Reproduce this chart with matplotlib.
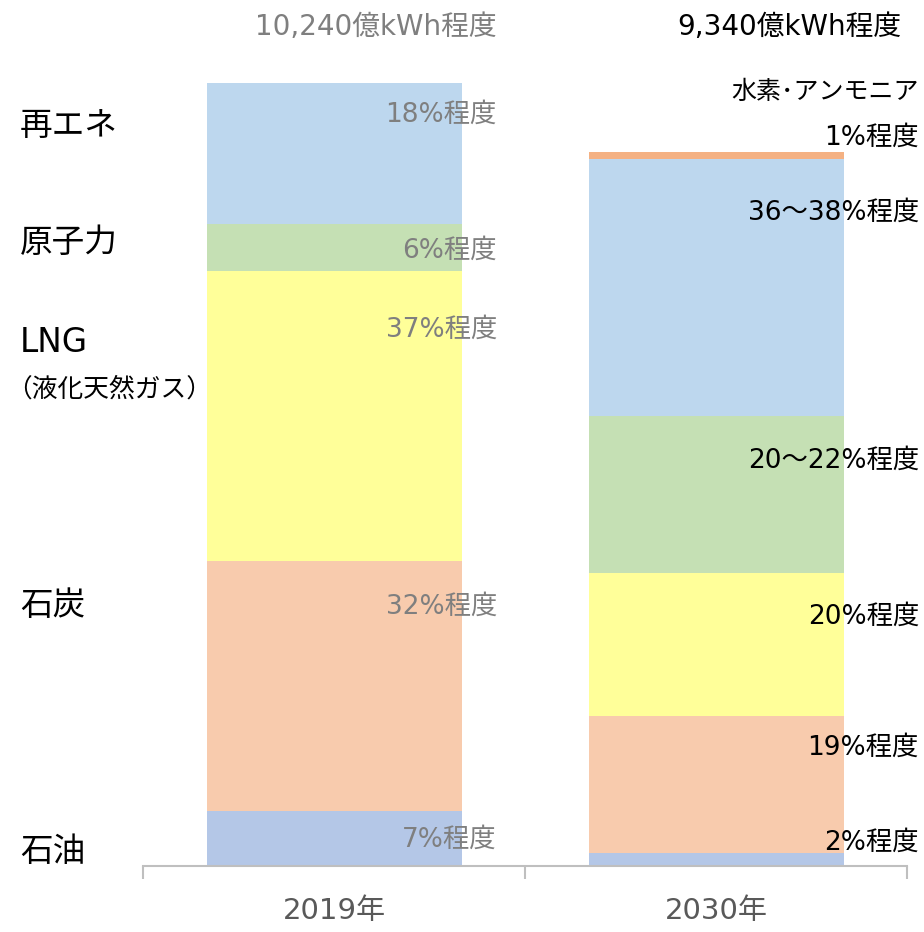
import numpy as np
import matplotlib.pyplot as plt

plt.rcParams['font.family'] = ['DejaVu Sans', 'Noto Sans CJK JP']

years = ['2019年', '2030年']
sources = ['石油', '石炭', 'LNG', '原子力', '再エネ', '水素・アンモニア']
# 億kWh
gen_2019 = [717, 3277, 3789, 614, 1843, 0]
gen_2030 = [170, 1790, 1870, 2050, 3365, 95]
totals = ['10,240億kWh程度', '9,340億kWh程度']
labels_2019 = ['7%程度', '32%程度', '37%程度', '6%程度', '18%程度']
labels_2030 = ['2%程度', '19%程度', '20%程度', '20～22%程度', '36～38%程度', '1%程度']
colors = ['#B4C7E7', '#F8CBAD', '#FFFF99', '#C5E0B4', '#BDD7EE', '#F4B183']

fig = plt.figure(figsize=(9.24, 9.32), dpi=100)
ax = fig.add_axes([143/924, 1 - 866/932, 764/924, 866/932])
scale = 10240 / 783  # 億kWh per pixel


def py(y):
    # pixel row -> data value
    return (866 - y) * scale


data = np.array([gen_2019, gen_2030])
x = np.arange(len(years))
bottom = np.zeros(len(years))
for k in range(len(sources)):
    ax.bar(x, data[:, k], bottom=bottom, width=255/382, color=colors[k], linewidth=0)
    bottom += data[:, k]

ax.set_xlim(-0.5, 1.5)
ax.set_ylim(0, py(0))
for s in ['top', 'right', 'left']:
    ax.spines[s].set_visible(False)
ax.spines['bottom'].set_color('#BFBFBF')
ax.spines['bottom'].set_linewidth(1.5)
ax.set_yticks([])
ax.set_xticks(x)
ax.set_xticklabels(years, fontsize=21, color='#595959')
ax.tick_params(axis='x', which='major', length=0, pad=22)
ax.set_xticks([-0.5, 0.5, 1.5], minor=True)
ax.tick_params(axis='x', which='minor', length=9, width=1.5, color='#BFBFBF')

gray = '#7F7F7F'
xr19 = (497 - 143) / 382 - 0.5
xr30 = (919 - 143) / 382 - 0.5
xt30 = (901 - 143) / 382 - 0.5
ys19 = [840, 607, 330, 251, 115]
ys30 = [843, 748, 617, 461, 213, 138]
fs = 19
for lab, yy in zip(labels_2019, ys19):
    ax.text(xr19, py(yy), lab, ha='right', va='center', fontsize=fs, color=gray)
for lab, yy in zip(labels_2030, ys30):
    ax.text(xr30, py(yy), lab, ha='right', va='center', fontsize=fs, color='black', clip_on=False)
ax.text(xr30, py(92), '水素･アンモニア', ha='right', va='center', fontsize=18,
        color='black', family=['Noto Sans CJK JP'], clip_on=False)

ax.text(xr19, py(27), totals[0], ha='right', va='center', fontsize=20, color=gray)
ax.text(xt30, py(27), totals[1], ha='right', va='center', fontsize=20, color='black')

# left side legend labels
left = [('再エネ', 125), ('原子力', 242), ('LNG', 342), ('石炭', 605), ('石油', 851)]
for lab, yy in left:
    fig.text(20 / 924, 1 - yy / 932, lab, ha='left', va='center', fontsize=23.5, color='black')
fig.text(6 / 924, 1 - 390 / 932, '（液化天然ガス）', ha='left', va='center', fontsize=18.5,
         color='black', family=['Noto Sans CJK JP'])

fig.savefig('out.png', dpi=100)
